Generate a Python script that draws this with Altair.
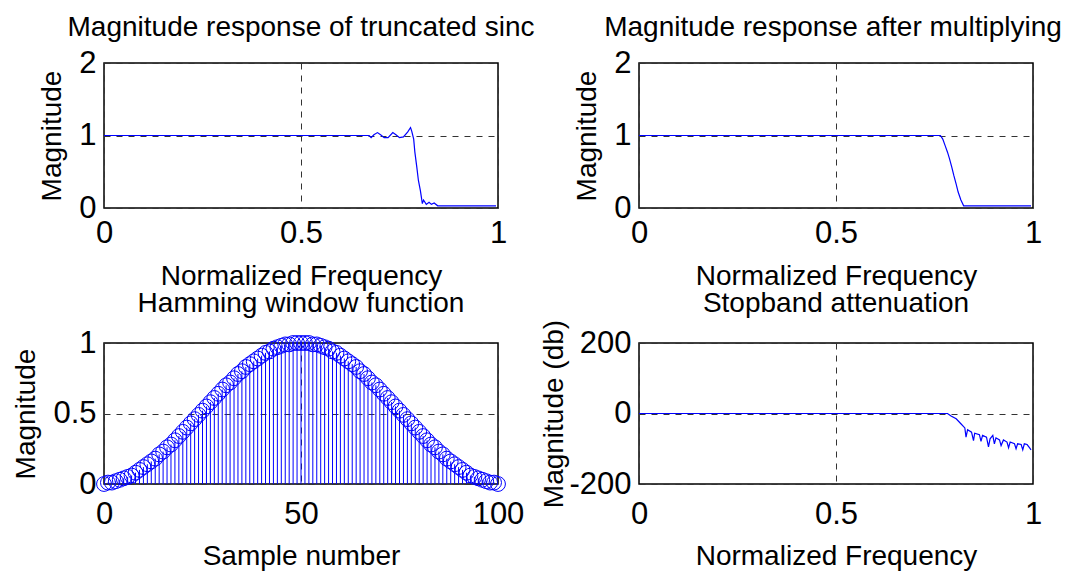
import altair as alt
import pandas as pd

# ---------------- data ----------------
# Top-left: magnitude response of truncated sinc
tl_freq = [0.0, 0.673, 0.678, 0.685, 0.694, 0.702, 0.711, 0.721, 0.733, 0.741, 0.750,
           0.760, 0.771, 0.778, 0.781, 0.786, 0.789, 0.794, 0.798, 0.803, 0.808,
           0.811, 0.818, 0.825, 0.831, 0.838, 0.847, 0.995]
tl_mag = [1.0, 1.0, 0.97, 1.01, 1.04, 1.01, 0.97, 0.97, 1.04, 1.01, 0.97,
          0.98, 1.05, 1.11, 1.06, 0.95, 0.77, 0.56, 0.38, 0.24, 0.06,
          0.11, 0.05, 0.08, 0.05, 0.07, 0.03, 0.03]

# Top-right: magnitude response after multiplying by window
tr_freq = [0.0, 0.765, 0.771, 0.777, 0.783, 0.788, 0.794, 0.799, 0.805, 0.810,
           0.817, 0.824, 0.995]
tr_mag = [1.0, 1.0, 0.95, 0.86, 0.77, 0.68, 0.56, 0.45, 0.33, 0.22,
          0.11, 0.03, 0.03]

ham_n = list(range(101))
ham_half = [0.00, 0.01, 0.01, 0.02, 0.03, 0.04, 0.05, 0.06, 0.08, 0.10,
            0.12, 0.14, 0.16, 0.18, 0.21, 0.23, 0.26, 0.28, 0.31, 0.34,
            0.37, 0.40, 0.43, 0.46, 0.49, 0.52, 0.55, 0.58, 0.61, 0.64,
            0.67, 0.70, 0.72, 0.75, 0.78, 0.80, 0.83, 0.85, 0.87, 0.89,
            0.91, 0.93, 0.94, 0.96, 0.97, 0.98, 0.99, 0.99, 1.00, 1.00, 1.00]
ham_w = ham_half + ham_half[-2::-1]

# Bottom-right: stopband attenuation (dB)
db_freq = [0.0, 0.783, 0.792, 0.805, 0.817, 0.827, 0.830, 0.834, 0.844, 0.849,
           0.852, 0.864, 0.868, 0.872, 0.882, 0.887, 0.891, 0.898, 0.902, 0.906,
           0.915, 0.919, 0.925, 0.934, 0.938, 0.942, 0.953, 0.957, 0.961, 0.970,
           0.974, 0.978, 0.985, 0.991, 0.995]
db_val = [0, 0, -7, -15, -29, -41, -67, -46, -53, -77,
          -56, -60, -79, -62, -67, -95, -72, -62, -86, -69,
          -75, -91, -75, -81, -97, -81, -86, -100, -86, -88,
          -103, -86, -88, -97, -103]

# ---------------- styling ----------------
FONT = "Liberation Sans"
BLUE = "#0000ff"
FS = 28
LFS = 31
W, H_TOP, H_BOT = 394, 145, 141


def xaxis(values, title, lpad, tpad):
    return alt.Axis(values=values, title=title, grid=True, gridDash=[6, 6],
                    gridColor="#333333", gridWidth=1, ticks=False, domain=False,
                    labelExpr="'' + datum.value", labelPadding=lpad,
                    labelFlush=False, titlePadding=tpad)


def yaxis(values, title, tpad):
    return alt.Axis(values=values, title=title, grid=True, gridDash=[6, 6],
                    gridColor="#333333", gridWidth=1, ticks=False, domain=False,
                    labelExpr="'' + datum.value", labelPadding=8,
                    labelFlush=False, titlePadding=tpad)


def ttl(text, offset, dx=0):
    return alt.TitleParams(text, fontSize=FS, font=FONT, fontWeight="normal",
                           color="black", anchor="middle", offset=offset, dx=dx)


df1 = pd.DataFrame({"f": tl_freq, "m": tl_mag})
df2 = pd.DataFrame({"f": tr_freq, "m": tr_mag})
df3 = pd.DataFrame({"n": ham_n, "w": ham_w})
df4 = pd.DataFrame({"f": db_freq, "d": db_val})

p1 = alt.Chart(df1).mark_line(color=BLUE, strokeWidth=1.2).encode(
    x=alt.X("f:Q", scale=alt.Scale(domain=[0, 1], nice=False),
            axis=xaxis([0, 0.5, 1], "Normalized Frequency", 10, 14)),
    y=alt.Y("m:Q", scale=alt.Scale(domain=[0, 2], nice=False),
            axis=yaxis([0, 1, 2], "Magnitude", 12)),
).properties(width=W, height=H_TOP, title=ttl("Magnitude response of truncated sinc", 5))

p2 = alt.Chart(df2).mark_line(color=BLUE, strokeWidth=1.2).encode(
    x=alt.X("f:Q", scale=alt.Scale(domain=[0, 1], nice=False),
            axis=xaxis([0, 0.5, 1], "Normalized Frequency", 10, 14)),
    y=alt.Y("m:Q", scale=alt.Scale(domain=[0, 2], nice=False),
            axis=yaxis([0, 1, 2], "Magnitude", 12)),
).properties(width=W, height=H_TOP,
             title=ttl("Magnitude response after multiplying", 5, -3))

base3 = alt.Chart(df3)
stems = base3.mark_rule(color=BLUE, strokeWidth=1).encode(
    x=alt.X("n:Q", scale=alt.Scale(domain=[0, 100], nice=False),
            axis=xaxis([0, 50, 100], "Sample number", 15, 13)),
    y=alt.Y("w:Q", scale=alt.Scale(domain=[0, 1], nice=False),
            axis=yaxis([0, 0.5, 1], "Magnitude", 12)),
    y2=alt.datum(0),
)
circles = base3.mark_point(shape="circle", filled=False, size=220, color=BLUE,
                           strokeWidth=1, opacity=1).encode(x="n:Q", y="w:Q")
p3 = alt.layer(stems, circles).properties(
    width=W, height=H_BOT, title=ttl("Hamming window function", 9))

p4 = alt.Chart(df4).mark_line(color=BLUE, strokeWidth=1.2).encode(
    x=alt.X("f:Q", scale=alt.Scale(domain=[0, 1], nice=False),
            axis=xaxis([0, 0.5, 1], "Normalized Frequency", 15, 13)),
    y=alt.Y("d:Q", scale=alt.Scale(domain=[-200, 200], nice=False),
            axis=yaxis([-200, 0, 200], "Magnitude (db)", 0)),
).properties(width=W, height=H_BOT, title=ttl("Stopband attenuation", 1))

chart = alt.concat(p1, p2, p3, p4, columns=2,
                   spacing={"row": 135, "column": 141},
                   bounds="flush", align="all").properties(
    padding={"left": 4, "top": 5, "right": 0, "bottom": 0}
).configure_view(
    stroke="black", strokeWidth=1.5
).configure_axis(
    labelFont=FONT, titleFont=FONT, labelFontSize=LFS, titleFontSize=FS,
    labelColor="black", titleColor="black", titleFontWeight="normal"
)

chart.save("out.html", embed_options={"renderer": "svg", "actions": False})
